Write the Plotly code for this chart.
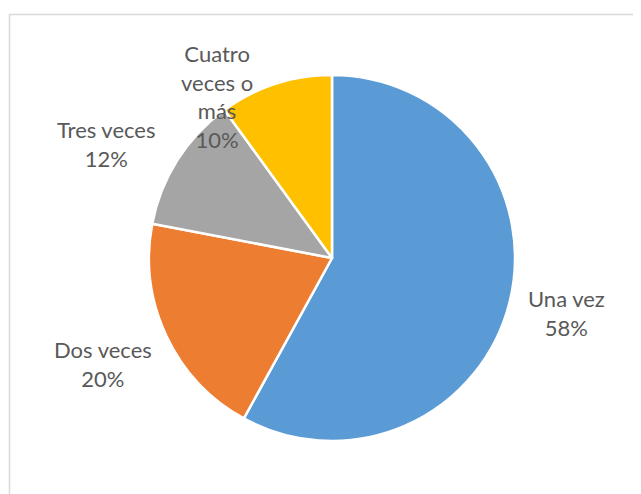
import textwrap
import plotly.graph_objects as go

# ---- data ----
categories = ["Una vez", "Dos veces", "Tres veces", "Cuatro veces o más"]
values = [58, 20, 12, 10]
colors = ["#5B9BD5", "#ED7D31", "#A5A5A5", "#FFC000"]

# ---- layout constants ----
W, H = 641, 494
OFF = 8                             # page body margin in the browser
cx, cy, r = 332 - OFF, 258 - OFF, 183   # pie centre / radius in pixels
# label block centres in pixels (layout only)
label_pos = [(566, 313), (103, 364), (106, 144), (217, 96)]

fig = go.Figure(go.Pie(
    labels=categories,
    values=values,
    sort=False,
    direction="clockwise",
    rotation=0,
    marker=dict(colors=colors, line=dict(color="white", width=2.5)),
    textinfo="none",
    hoverinfo="label+percent",
    showlegend=False,
    domain=dict(x=[(cx - r) / W, (cx + r) / W], y=[1 - (cy + r) / H, 1 - (cy - r) / H]),
))

total = sum(values)
for cat, val, (px, py) in zip(categories, values, label_pos):
    lines = textwrap.wrap(cat, 7) if len(cat) > 12 else [cat]
    pct = round(100 * val / total)
    txt = "<br>".join(lines + [f"{pct}%"])
    fig.add_annotation(
        x=(px - OFF) / W, y=1 - (py - OFF) / H, xref="paper", yref="paper",
        text=txt, showarrow=False, align="center",
        xanchor="center", yanchor="middle",
        font=dict(family="Lato, Open Sans, sans-serif", size=22, color="#595959"),
    )

fig.add_shape(type="rect", xref="paper", yref="paper",
              x0=(9.5 - OFF) / W, x1=1.05, y0=-0.05, y1=1 - (14.5 - OFF) / H,
              line=dict(color="#D9D9D9", width=1.5), fillcolor="rgba(0,0,0,0)")

fig.update_layout(
    width=W, height=H,
    margin=dict(l=0, r=0, t=0, b=0),
    paper_bgcolor="white", plot_bgcolor="white",
)
fig.write_html("out.html")
